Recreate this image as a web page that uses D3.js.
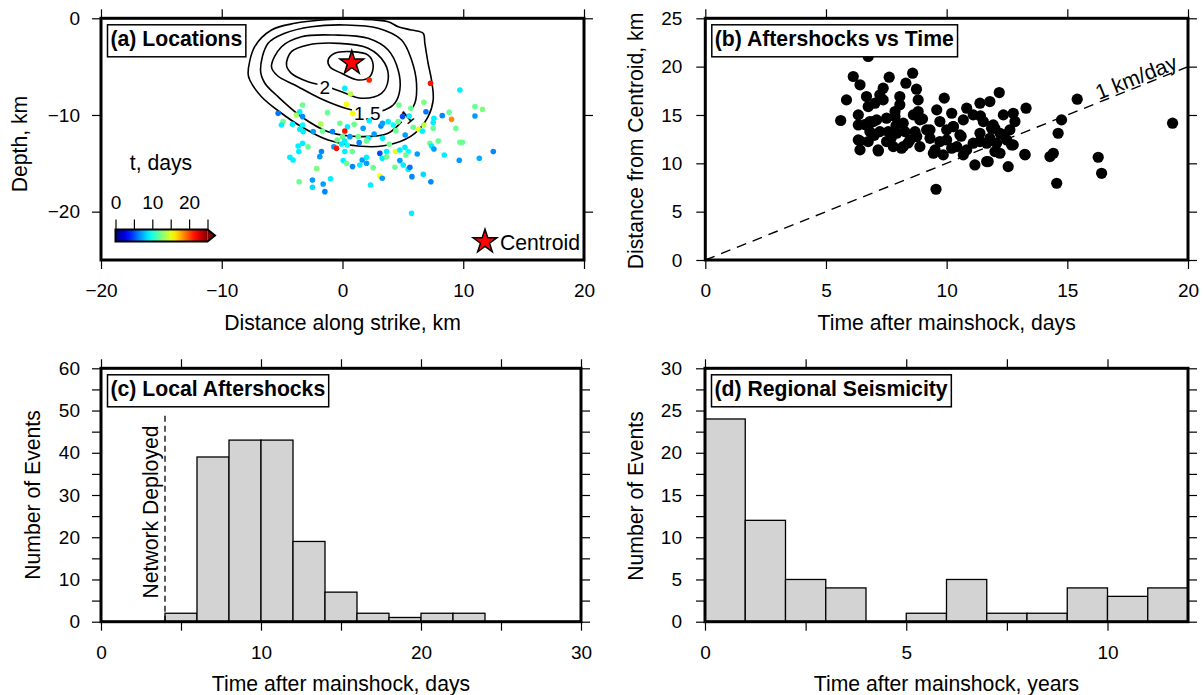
<!DOCTYPE html>
<html><head><meta charset="utf-8">
<script src="https://cdn.jsdelivr.net/npm/d3@7"></script>
<style>
body{margin:0;background:#fff;}
svg text{font-family:"Liberation Sans",Arial,Helvetica,sans-serif;fill:#000;}
</style></head><body>
<svg id="chart" width="1204" height="695"></svg>
<script>
// ---------------- DATA ----------------
// (a) event locations: along-strike distance (km), depth (km), time after mainshock (days)
const eventAlong = [2.21,7.29,9.72,0.19,0.66,0.33,0.83,-3.31,-1.24,4.67,5.66,6.74,6.91,4.97,5.52,4.61,2.21,8.26,8.84,9.03,10.97,11.60,10.97,-5.33,-3.81,-3.54,-3.31,-4.92,-5.06,-4.14,-3.31,-1.80,-0.22,0.41,0.97,1.71,0.19,-0.83,-1.66,-2.43,-3.26,-3.54,3.18,3.31,3.78,4.20,4.42,5.19,5.86,6.30,6.74,6.63,7.51,7.57,7.51,9.39,2.62,2.13,1.38,1.30,0.61,0.00,-0.44,-0.72,-0.50,-0.08,0.19,0.39,0.80,0.19,1.99,3.31,3.87,4.39,4.75,5.17,5.44,6.19,5.25,3.65,3.09,3.29,3.65,1.63,1.99,0.83,1.44,1.99,2.54,0.06,0.33,-1.74,-1.88,-2.85,-3.67,-3.62,-3.31,-4.36,-4.09,-2.15,3.09,3.29,4.34,4.75,5.03,5.44,5.58,5.75,6.69,7.32,9.67,11.33,12.49,8.43,7.24,7.38,7.93,7.57,9.72,9.94,-3.59,-2.49,-2.49,-1.60,-1.46,-0.99,2.32,5.72];
const eventDepth = [-6.38,-6.72,-7.41,-7.24,-7.83,-8.90,-9.83,-8.97,-9.76,-8.97,-9.31,-8.69,-9.66,-10.17,-10.10,-10.69,-10.59,-10.07,-9.72,-10.45,-9.14,-9.41,-10.10,-9.83,-10.00,-9.66,-10.17,-10.69,-11.03,-10.97,-11.03,-10.93,-10.86,-11.21,-10.97,-11.38,-11.66,-11.72,-11.66,-11.72,-11.72,-11.48,-11.14,-10.86,-10.69,-11.03,-11.62,-12.07,-11.28,-11.48,-11.03,-11.66,-11.38,-10.34,-10.79,-11.38,-11.97,-12.41,-12.86,-12.24,-12.24,-12.24,-12.59,-13.28,-13.45,-13.00,-12.69,-13.10,-13.79,-13.79,-12.69,-12.41,-13.03,-13.79,-13.62,-13.34,-13.79,-14.03,-14.14,-13.79,-13.97,-14.48,-14.31,-14.66,-14.38,-15.34,-15.17,-15.00,-15.45,-14.72,-15.00,-13.79,-14.31,-13.28,-13.21,-13.79,-12.93,-14.38,-14.66,-15.55,-16.31,-16.55,-15.41,-14.72,-15.17,-15.62,-15.41,-16.38,-16.14,-16.90,-14.69,-14.48,-13.79,-14.14,-12.93,-13.21,-12.69,-13.52,-12.83,-12.83,-16.90,-16.72,-17.48,-17.14,-17.93,-16.59,-17.24,-20.17];
const eventDays = [21,21.5,9,9,14,15.5,15.5,12,12,12,12,12.5,6,5,9,12,9,6.5,12,18.5,12,12.5,7,6,13.5,9,6.5,12,9,9,9.5,13.5,12,9,12,7,21.5,6.5,12,7,9,9,6.5,7,9,9.5,12,7,12,15,14,9,12,9,9,12,7,9,6.5,12,7,12,12,7,21.5,9,9,9.5,12,9,12,9,12,15,9,9,9.5,7,12,9,5,9,12,7,9,6.5,9,7,12,9,12,6.5,7,12,9,9,9,9,9,12.5,15.5,7,12,7,9,9,6,6.5,8.5,6.5,7,7.5,6.5,9,12,9,12,7,12,12,12,7,8.5,7,6.5,9,9,9];
const centroidAlong = 0.77, centroidDepth = -4.62;
// slip contours (levels and traced outlines, km)
const contourLevels = [0.5, 1, 1.5, 2, 2.5];
const contourAlong = [
  [-7.82,-7.27,-5.88,-3.95,-1.74,1.57,3.78,4.61,5.72,6.68,6.82,7.09,7.37,7.51,7.09,5.99,4.33,2.40,-1.19,-3.40,-5.05,-6.71,-7.68],
  [-6.79,-6.16,-4.78,-2.57,0.19,2.95,4.89,5.72,6.13,5.99,5.16,3.78,1.57,-1.19,-3.40,-5.34,-6.44],
  [-5.88,-5.05,-3.40,-0.64,2.12,3.78,4.61,4.75,4.33,3.50,2.10,0.46,-1.74,-3.95,-5.36],
  [-4.64,-4.23,-2.85,-0.36,2.12,3.50,3.78,3.23,1.57,-0.08,-1.47,-2.85,-4.23],
  [-1.19,-0.64,0.75,2.12,2.54,2.26,1.29,-0.08,-1.05]
];
const contourDepth = [
  [-5.69,-2.94,-1.21,-0.52,-0.18,-0.10,-0.35,-0.87,-1.21,-1.55,-2.59,-4.65,-6.38,-8.45,-10.18,-11.89,-12.93,-13.28,-12.59,-11.21,-9.82,-8.11,-6.38],
  [-5.35,-2.59,-1.55,-0.87,-0.69,-1.03,-2.24,-4.31,-6.72,-8.79,-10.31,-11.89,-12.24,-11.73,-10.18,-8.11,-6.69],
  [-5.01,-2.94,-1.90,-1.73,-2.07,-3.28,-5.35,-7.41,-8.79,-9.48,-9.69,-9.38,-8.35,-6.90,-5.97],
  [-4.83,-3.45,-2.76,-2.59,-3.10,-4.65,-6.38,-7.76,-8.27,-7.59,-7.00,-6.56,-5.69],
  [-4.31,-3.62,-3.45,-3.80,-4.83,-6.04,-6.38,-5.69,-5.01]
];
const contourLabelText = ["2", "1.5", "1"];
const contourLabelAlong = [-1.47, 2.05, 5.33];
const contourLabelDepth = [-7.10, -9.82, -10.18];

// (b) distance from centroid vs time
const bDays = [6.75,6.13,6.41,5.85,5.61,7.62,7.37,8.59,8.31,8.75,6.68,6.75,7.23,7.03,7.37,8.06,8.06,8.82,8.82,8.89,8.69,8.48,6.34,6.34,6.82,7.10,7.51,7.86,8.20,8.27,7.93,7.58,7.23,6.82,6.34,6.41,6.75,7.16,7.79,8.13,8.89,9.17,9.31,9.52,9.59,9.90,9.72,10.00,10.00,10.21,10.28,10.55,10.42,10.83,10.69,11.10,11.38,11.79,12.18,11.52,11.38,11.86,11.10,10.69,11.66,12.07,12.21,12.35,12.76,12.83,12.62,12.49,12.76,12.21,11.72,11.17,12.55,13.29,13.25,9.56,14.76,14.62,14.42,14.28,14.56,15.41,16.28,16.42,19.36,7.51,8.76,9.31,10.27,11.93,12.35,12.69,11.38,11.79,8.62,7.86,6.96,6.41,7.17,8.20,9.72,10.21,10.83,11.66,12.00,13.24,9.45,9.86,7.0,7.7,8.4,9.0,10.6,11.4,12.0,6.6,7.9];
const bDist = [21.05,18.98,18.12,16.56,14.43,18.91,17.77,19.32,18.29,17.67,16.91,15.87,17.08,16.22,16.56,16.91,16.05,16.56,15.36,14.49,13.28,12.42,15.01,13.97,14.32,14.49,14.67,14.84,14.15,13.28,13.11,13.28,13.28,13.28,12.42,11.39,12.25,11.39,11.73,11.56,11.73,13.46,12.59,11.39,15.53,16.74,14.32,13.46,12.42,15.18,13.80,12.94,11.73,15.70,14.49,15.01,16.22,16.39,17.32,14.32,13.11,13.63,12.08,10.87,12.08,12.08,13.11,15.01,15.18,14.32,13.46,12.42,11.91,11.04,10.18,9.83,9.66,15.70,10.87,7.32,14.49,13.11,11.04,10.70,7.94,16.63,10.63,8.97,14.15,12.25,12.77,13.46,13.80,13.97,12.94,11.90,12.25,12.59,15.01,15.36,14.32,12.32,11.28,11.73,12.25,11.56,11.39,10.18,11.21,10.94,11.04,10.87,12.9,12.6,12.1,14.6,12.8,14.9,13.6,14.0,13.9];
const migrationRate = 1; // km/day

// (c) local aftershocks histogram (2-day bins)
const localBinStart = [4,6,8,10,12,14,16,18,20,22];
const localBinWidth = 2;
const localCounts = [2,39,43,43,19,7,2,1,2,2];
const networkDeployedDay = 4;

// (d) regional seismicity histogram (1-year bins)
const regionalBinStart = [0,1,2,3,4,5,6,7,8,9,10,11];
const regionalBinWidth = 1;
const regionalCounts = [24,12,5,4,0,1,5,1,1,4,3,4];

// ticks
const aXTicks = [-20,-10,0,10,20], aXLabels = [-20,-10,0,10,20];
const aYTicks = [0,-10,-20], aYLabels = [0,-10,-20];
const bXTicks = [0,5,10,15,20], bXLabels = [0,5,10,15,20];
const bYTicks = [0,5,10,15,20,25], bYLabels = [0,5,10,15,20,25];
const cXTicks = [0,5,10,15,20,25,30], cXLabels = [0,10,20,30];
const cYTicks = [0,5,10,15,20,25,30,35,40,45,50,55,60], cYLabels = [0,10,20,30,40,50,60];
const dXTicks = [0,2.5,5,7.5,10], dXLabels = [0,5,10];
const dYTicks = [0,2.5,5,7.5,10,12.5,15,17.5,20,22.5,25,27.5,30], dYLabels = [0,5,10,15,20,25,30];
const cbarTicks = [0,5,10,15,20,25], cbarLabels = [0,10,20];

// ---------------- DRAW ----------------
const svg = d3.select('#chart');
const fmt = d3.format('d');
const TFS = 21.2;   // title / label font size
const jetStops = ["#00007f","#0000ff","#007fff","#00ffff","#7fff7f","#ffff00","#ff7f00","#ff0000","#7f0000"];
const jet = d3.piecewise(d3.interpolateRgb, jetStops);
const color = d3.scaleSequential(jet).domain([0,25]).clamp(true);

const PA = {x0:101, x1:584, y0:18.3, y1:260};
const PB = {x0:705.3, x1:1188, y0:18.3, y1:260};
const PC = {x0:101, x1:581, y0:368.3, y1:621.7};
const PD = {x0:705, x1:1188, y0:368.3, y1:621.7};

const defs = svg.append('defs');
function clip(id, P){
  defs.append('clipPath').attr('id',id).append('rect')
    .attr('x',P.x0).attr('y',P.y0).attr('width',P.x1-P.x0).attr('height',P.y1-P.y0);
  return `url(#${id})`;
}
function styleAxis(g){
  g.select('.domain').remove();
  g.selectAll('line').attr('stroke','#000').attr('stroke-width',1.2);
  g.attr('font-size',19).attr('font-family','"Liberation Sans",Arial,sans-serif');
  g.selectAll('text').attr('fill','#000');
}
function axes(P, x, y, o){
  const tl = 9;
  svg.append('g').attr('transform',`translate(0,${P.y1})`)
    .call(d3.axisBottom(x).tickValues(o.xt).tickSize(tl).tickPadding(o.xpad)
      .tickFormat(d => o.xl.includes(d) ? fmt(d) : '')).call(styleAxis);
  svg.append('g').attr('transform',`translate(0,${P.y0})`)
    .call(d3.axisTop(x).tickValues(o.xt).tickSize(tl).tickFormat('')).call(styleAxis);
  svg.append('g').attr('transform',`translate(${P.x0},0)`)
    .call(d3.axisLeft(y).tickValues(o.yt).tickSize(tl).tickPadding(o.ypad)
      .tickFormat(d => o.yl.includes(d) ? fmt(d) : '')).call(styleAxis);
  svg.append('g').attr('transform',`translate(${P.x1},0)`)
    .call(d3.axisRight(y).tickValues(o.yt).tickSize(tl).tickFormat('')).call(styleAxis);
  svg.append('rect').attr('x',P.x0).attr('y',P.y0).attr('width',P.x1-P.x0).attr('height',P.y1-P.y0)
    .attr('fill','none').attr('stroke','#000').attr('stroke-width',3);
}
function xTitle(P, text, by){
  svg.append('text').attr('x',(P.x0+P.x1)/2).attr('y',by).attr('text-anchor','middle')
    .attr('font-size',TFS).text(text);
}
function yTitle(bx, cy, text){
  svg.append('text').attr('transform',`translate(${bx},${cy}) rotate(-90)`).attr('text-anchor','middle')
    .attr('font-size',TFS).text(text);
}
function panelTitle(P, text){
  const g = svg.append('g');
  const r = g.append('rect').attr('fill','#fff').attr('stroke','#000').attr('stroke-width',1.5);
  const t = g.append('text').attr('x',P.x0+9.5).attr('y',P.y0+28).attr('font-size',TFS)
    .attr('font-weight','bold').text(text);
  const bb = t.node().getBBox();
  r.attr('x',P.x0+6.5).attr('y',P.y0+6.5).attr('width',bb.width+6.5).attr('height',32);
}

// ----- Panel (a) -----
{
  const x = d3.scaleLinear().domain([-20,20]).range([PA.x0,PA.x1]);
  const y = d3.scaleLinear().domain([-25,0]).range([PA.y1,PA.y0]);
  const g = svg.append('g').attr('clip-path', clip('ca',PA));
  const line = d3.line().x(d=>x(d[0])).y(d=>y(d[1])).curve(d3.curveCatmullRomClosed.alpha(0.5));
  contourLevels.forEach((lev,i)=>{
    const pts = contourAlong[i].map((a,j)=>[a, contourDepth[i][j]]);
    g.append('path').attr('d',line(pts)).attr('fill','none').attr('stroke','#000').attr('stroke-width',1.6);
  });
  contourLabelText.forEach((t,i)=>{
    const cx = x(contourLabelAlong[i]), cy = y(contourLabelDepth[i]);
    const lg = g.append('g').attr('transform', `translate(${cx},${cy}) rotate(${i===2?-40:0})`);
    const bg = lg.append('rect').attr('fill','#fff');
    const tx = lg.append('text').attr('dy','0.35em').attr('text-anchor','middle').attr('font-size',19).text(t);
    const bb = tx.node().getBBox();
    bg.attr('x',bb.x-2).attr('y',bb.y+2).attr('width',bb.width+4).attr('height',bb.height-4);
  });
  g.selectAll('circle.ev').data(eventAlong.map((a,i)=>({a, d:eventDepth[i], t:eventDays[i]})))
    .join('circle').attr('class','ev').attr('cx',d=>x(d.a)).attr('cy',d=>y(d.d)).attr('r',2.8)
    .attr('fill',d=>color(d.t));
  const star = d3.symbol(d3.symbolStar).size(175)();
  g.append('path').attr('d',star).attr('transform',`translate(${x(centroidAlong)},${y(centroidDepth)})`)
    .attr('fill','#f00').attr('stroke','#000').attr('stroke-width',1.5);
  axes(PA,x,y,{xt:aXTicks,xl:aXLabels,yt:aYTicks,yl:aYLabels,xpad:15,ypad:12});
  xTitle(PA,'Distance along strike, km',330);
  yTitle(27,144,'Depth, km');
  panelTitle(PA,'(a) Locations');
  // colour bar
  const cb = d3.scaleLinear().domain([0,25]).range([115.5,207.5]);
  const grad = defs.append('linearGradient').attr('id','jetgrad');
  d3.range(0,1.0001,0.05).forEach(f=>grad.append('stop').attr('offset',f).attr('stop-color',jet(f)));
  const cy0 = 229.5, cy1 = 241.5;
  svg.append('rect').attr('x',cb(0)).attr('y',cy0).attr('width',cb(25)-cb(0)).attr('height',cy1-cy0).attr('fill','url(#jetgrad)');
  svg.append('path').attr('d',`M${cb(25)},${cy0}L${cb(25)+7.5},${(cy0+cy1)/2}L${cb(25)},${cy1}Z`).attr('fill','#7f0000');
  svg.append('path').attr('d',`M${cb(0)},${cy0}H${cb(25)}L${cb(25)+7.5},${(cy0+cy1)/2}L${cb(25)},${cy1}H${cb(0)}Z`)
    .attr('fill','none').attr('stroke','#000').attr('stroke-width',2);
  svg.append('g').attr('transform',`translate(0,${cy0})`)
    .call(d3.axisTop(cb).tickValues(cbarTicks).tickSize(10).tickPadding(11).tickFormat(d=>cbarLabels.includes(d)?fmt(d):''))
    .call(styleAxis);
  svg.append('text').attr('x',161).attr('y',170).attr('text-anchor','middle').attr('font-size',TFS).text('t, days');
  // legend
  svg.append('path').attr('d',star).attr('transform','translate(485,241.7)')
    .attr('fill','#f00').attr('stroke','#000').attr('stroke-width',1.5);
  svg.append('text').attr('x',500).attr('y',250).attr('font-size',TFS).text('Centroid');
}

// ----- Panel (b) -----
{
  const x = d3.scaleLinear().domain([0,20]).range([PB.x0,PB.x1]);
  const y = d3.scaleLinear().domain([0,25]).range([PB.y1,PB.y0]);
  const g = svg.append('g').attr('clip-path', clip('cb',PB));
  g.append('line').attr('x1',x(0)).attr('y1',y(0)).attr('x2',x(20)).attr('y2',y(20*migrationRate))
    .attr('stroke','#000').attr('stroke-width',1.4).attr('stroke-dasharray','10,7');
  g.selectAll('circle').data(bDays.map((d,i)=>[d,bDist[i]])).join('circle')
    .attr('cx',d=>x(d[0])).attr('cy',d=>y(d[1])).attr('r',5.6).attr('fill','#000');
  const ang = -Math.atan2(y(0)-y(migrationRate), x(1)-x(0))*180/Math.PI;
  g.append('text').attr('transform',`translate(${x(18)},${y(18*migrationRate)}) rotate(${ang})`)
    .attr('text-anchor','middle').attr('dy',-2).attr('font-size',TFS).text('1 km/day');
  axes(PB,x,y,{xt:bXTicks,xl:bXLabels,yt:bYTicks,yl:bYLabels,xpad:15,ypad:14});
  xTitle(PB,'Time after mainshock, days',330);
  yTitle(643,141,'Distance from Centroid, km');
  panelTitle(PB,'(b) Aftershocks vs Time');
}

// ----- Panel (c) -----
{
  const x = d3.scaleLinear().domain([0,30]).range([PC.x0,PC.x1]);
  const y = d3.scaleLinear().domain([0,60]).range([PC.y1,PC.y0]);
  const g = svg.append('g').attr('clip-path', clip('cc',PC));
  g.selectAll('rect').data(localCounts.map((c,i)=>({s:localBinStart[i],c}))).join('rect')
    .attr('x',d=>x(d.s)).attr('width',d=>x(d.s+localBinWidth)-x(d.s))
    .attr('y',d=>y(d.c)).attr('height',d=>y(0)-y(d.c))
    .attr('fill','#d3d3d3').attr('stroke','#000').attr('stroke-width',1.3);
  g.append('line').attr('x1',x(networkDeployedDay)).attr('x2',x(networkDeployedDay))
    .attr('y1',y(0)).attr('y2',411.7).attr('stroke','#000').attr('stroke-width',1.3).attr('stroke-dasharray','6,4');
  g.append('text').attr('transform',`translate(${x(networkDeployedDay)-7.5},512) rotate(-90)`)
    .attr('text-anchor','middle').attr('font-size',TFS).text('Network Deployed');
  axes(PC,x,y,{xt:cXTicks,xl:cXLabels,yt:cYTicks,yl:cYLabels,xpad:15,ypad:12});
  xTitle(PC,'Time after mainshock, days',691);
  yTitle(40,495,'Number of Events');
  panelTitle(PC,'(c) Local Aftershocks');
}

// ----- Panel (d) -----
{
  const x = d3.scaleLinear().domain([0,12]).range([PD.x0,PD.x1]);
  const y = d3.scaleLinear().domain([0,30]).range([PD.y1,PD.y0]);
  const g = svg.append('g').attr('clip-path', clip('cd',PD));
  g.selectAll('rect').data(regionalCounts.map((c,i)=>({s:regionalBinStart[i],c})).filter(d=>d.c>0)).join('rect')
    .attr('x',d=>x(d.s)).attr('width',d=>x(d.s+regionalBinWidth)-x(d.s))
    .attr('y',d=>y(d.c)).attr('height',d=>y(0)-y(d.c))
    .attr('fill','#d3d3d3').attr('stroke','#000').attr('stroke-width',1.3);
  axes(PD,x,y,{xt:dXTicks,xl:dXLabels,yt:dYTicks,yl:dYLabels,xpad:15,ypad:14});
  xTitle(PD,'Time after mainshock, years',691);
  yTitle(643,496,'Number of Events');
  panelTitle(PD,'(d) Regional Seismicity');
}
</script>
</body></html>
